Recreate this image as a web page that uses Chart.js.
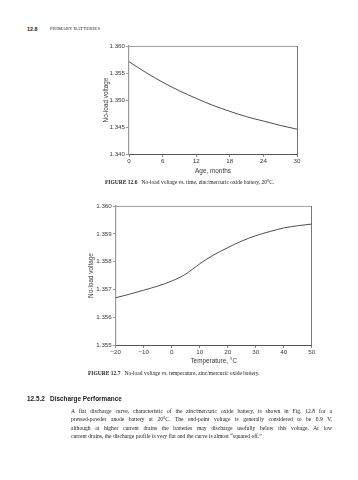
<!DOCTYPE html>
<html><head><meta charset="utf-8">
<script src="https://cdn.jsdelivr.net/npm/chart.js@4.4.0/dist/chart.umd.min.js"></script>
<style>
html,body{margin:0;padding:0;background:#fff;}
body{width:358px;height:480px;position:relative;overflow:hidden;}
canvas{position:absolute;left:0;top:0;width:358px;height:480px;}
.t{position:absolute;white-space:nowrap;color:#222;}
.serif{font-family:"Liberation Serif","Times New Roman",serif;}
.sans{font-family:"Liberation Sans",Arial,sans-serif;}
.line{position:absolute;left:71px;width:261px;font-family:"Liberation Serif","Times New Roman",serif;font-size:5.6px;line-height:7px;color:#222;white-space:nowrap;}
.just{text-align:justify;text-align-last:justify;white-space:normal;}
</style></head><body>
<div class="t sans" style="left:27px;top:25.8px;font-size:5.4px;font-weight:bold;line-height:7px">12.8</div>
<div class="t serif" style="left:50px;top:26.3px;font-size:4.7px;line-height:6px;letter-spacing:0.2px">PRIMARY BATTERIES</div>
<canvas id="c1" width="358" height="480"></canvas>
<canvas id="c2" width="358" height="480"></canvas>
<div class="t serif" style="left:105px;top:179px;font-size:5.5px;line-height:6px"><b>FIGURE 12.6</b>&nbsp;&nbsp;&nbsp;No-load voltage vs. time, zinc/mercuric oxide battery, 20°C.</div>
<div class="t serif" style="left:88px;top:370px;font-size:5.5px;line-height:6px"><b>FIGURE 12.7</b>&nbsp;&nbsp;&nbsp;No-load voltage vs. temperature, zinc/mercuric oxide battery.</div>
<div class="t sans" style="left:27px;top:394.5px;font-size:6.4px;font-weight:bold;line-height:7px">12.5.2&nbsp;&nbsp;&nbsp;Discharge Performance</div>
<div class="line just" style="top:407.5px">A flat discharge curve, characteristic of the zinc/mercuric oxide battery, is shown in Fig. 12.8 for a</div>
<div class="line just" style="top:416.2px">pressed-powder anode battery at 20°C. The end-point voltage is generally considered to be 0.9 V,</div>
<div class="line just" style="top:424.5px">although at higher current drains the batteries may discharge usefully below this voltage. At low</div>
<div class="line" style="top:432.8px">current drains, the discharge profile is very flat and the curve is almost “squared off.”</div>
<script>
// Figure 12.6 data
const ageMonths = [0, 3, 6, 9, 12, 15, 18, 21, 24, 27, 30];
const voltageVsAge = [1.3571, 1.3551, 1.3533, 1.3517, 1.3503, 1.3490, 1.3479, 1.3469, 1.3461, 1.3453, 1.3446];
const ageTicks = [0, 6, 12, 18, 24, 30];
const ageVoltTicks = [1.340, 1.345, 1.350, 1.355, 1.360];

// Figure 12.7 data
const tempC = [-20, -15, -10, -5, 0, 5, 10, 15, 20, 25, 30, 35, 40, 45, 50];
const voltageVsTemp = [1.3567, 1.35683, 1.35697, 1.35712, 1.3573, 1.35755, 1.35792, 1.35824, 1.35850, 1.35874, 1.35893, 1.35908, 1.35921, 1.35929, 1.35935];
const tempTicks = [-20, -10, 0, 10, 20, 30, 40, 50];
const tempVoltTicks = [1.355, 1.356, 1.357, 1.358, 1.359, 1.360];

const tickFont = {family: '"Liberation Sans", Arial, sans-serif', size: 6.2};
const titleFont = {family: '"Liberation Sans", Arial, sans-serif', size: 6.4};
const txtColor = '#3a3a3a';

function fmtX(v) { return v < 0 ? '\u2212' + Math.abs(v) : String(v); }

function makeChart(id, xs, ys, xTicks, yTicks, xTitle, yTitle, box) {
  const pts = xs.map((x, i) => ({x: x, y: ys[i]}));
  return new Chart(document.getElementById(id), {
    type: 'line',
    data: {datasets: [{data: pts, borderColor: '#3a3a3a', borderWidth: 0.9, pointRadius: 0, fill: false, cubicInterpolationMode: 'monotone'}]},
    options: {
      responsive: false, animation: false, devicePixelRatio: 1,
      layout: {padding: box.pad},
      plugins: {legend: {display: false}, tooltip: {enabled: false}},
      scales: {
        x: {
          type: 'linear', position: 'bottom',
          min: xTicks[0], max: xTicks[xTicks.length - 1],
          afterBuildTicks: s => { s.ticks = xTicks.map(v => ({value: v})); },
          afterFit: s => { s.height = box.xh; },
          ticks: {font: tickFont, color: txtColor, padding: 1, maxRotation: 0, autoSkip: false, callback: v => fmtX(v)},
          grid: {display: true, drawOnChartArea: false, drawTicks: true, tickLength: 3, color: '#666', lineWidth: 0.8},
          border: {display: true, color: '#555', width: 1},
          title: {display: true, text: xTitle, font: titleFont, color: txtColor, padding: 0}
        },
        y: {
          type: 'linear', position: 'left',
          min: yTicks[0], max: yTicks[yTicks.length - 1],
          afterBuildTicks: s => { s.ticks = yTicks.map(v => ({value: v})); },
          afterFit: s => { s.width = box.yw; },
          ticks: {font: tickFont, color: txtColor, padding: 1, callback: v => Number(v).toFixed(3)},
          grid: {display: true, drawOnChartArea: false, drawTicks: true, tickLength: 3, color: '#888', lineWidth: 0.8},
          border: {display: true, color: '#9a9a9a', width: 1.2},
          title: {display: true, text: yTitle, font: titleFont, color: txtColor, padding: 0}
        },
        x2: {
          type: 'linear', position: 'top', min: 0, max: 1,
          ticks: {display: false}, grid: {display: false},
          border: {display: true, color: '#999', width: 0.9},
          afterFit: s => { s.height = 0; }
        },
        y2: {
          type: 'linear', position: 'right', min: 0, max: 1,
          ticks: {display: false}, grid: {display: false},
          border: {display: true, color: '#666', width: 0.9},
          afterFit: s => { s.width = 0; }
        }
      }
    }
  });
}

makeChart('c1', ageMonths, voltageVsAge, ageTicks, ageVoltTicks, 'Age, months', 'No-load voltage',
  {pad: {left: 102, top: 46, right: 61, bottom: 305}, yw: 27, xh: 21});
makeChart('c2', tempC, voltageVsTemp, tempTicks, tempVoltTicks, 'Temperature, \u00B0C', 'No-load voltage',
  {pad: {left: 87, top: 206, right: 46.3, bottom: 115}, yw: 28.7, xh: 20});
</script>
</body></html>
